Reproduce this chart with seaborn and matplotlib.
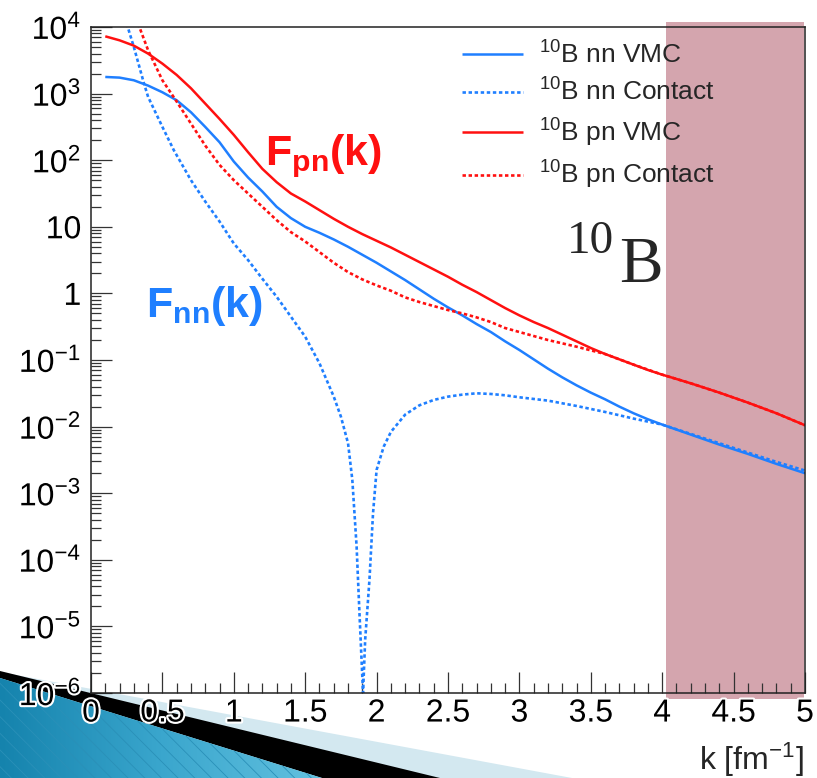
import numpy as np
import pandas as pd
import matplotlib
matplotlib.use("Agg")
import matplotlib.pyplot as plt
import seaborn as sns
from matplotlib.patches import Polygon, Rectangle
from matplotlib import patheffects as pe
from matplotlib.ticker import MultipleLocator, LogLocator, NullFormatter, FixedLocator
from matplotlib.colors import LinearSegmentedColormap
import matplotlib.transforms as mtransforms

# ---------------- data (log10 of F(k)) ----------------
k_vmc = [0.1, 0.2, 0.3, 0.4, 0.5, 0.6, 0.7, 0.8, 0.9, 1.0,
         1.1, 1.2, 1.3, 1.4, 1.5, 1.6, 1.7, 1.8, 1.9, 2.0,
         2.1, 2.2, 2.3, 2.4, 2.5, 2.6, 2.7, 2.8, 2.9, 3.0,
         3.1, 3.2, 3.3, 3.4, 3.5, 3.6, 3.7, 3.8, 3.9, 4.0,
         4.2, 4.4, 4.6, 4.8, 5.0]
log_pn_vmc = [3.86, 3.80, 3.72, 3.60, 3.45, 3.28, 3.08, 2.85, 2.62, 2.38,
              2.12, 1.87, 1.67, 1.50, 1.38, 1.25, 1.12, 1.00, 0.89, 0.79,
              0.69, 0.58, 0.47, 0.36, 0.25, 0.13, 0.02, -0.10, -0.22, -0.33,
              -0.43, -0.52, -0.62, -0.72, -0.82, -0.91, -0.99, -1.07, -1.15, -1.22,
              -1.35, -1.49, -1.64, -1.80, -1.98]
log_nn_vmc = [3.25, 3.24, 3.20, 3.12, 3.02, 2.90, 2.72, 2.50, 2.27, 1.98,
              1.74, 1.53, 1.30, 1.13, 1.00, 0.91, 0.81, 0.70, 0.58, 0.46,
              0.33, 0.20, 0.06, -0.08, -0.21, -0.33, -0.46, -0.58, -0.72, -0.85,
              -0.99, -1.13, -1.26, -1.38, -1.49, -1.59, -1.70, -1.80, -1.89, -1.97,
              -2.12, -2.27, -2.41, -2.56, -2.70]

k_pn_con = [0.33, 0.4, 0.5, 0.6, 0.7, 0.8, 0.9, 1.0, 1.1, 1.2,
            1.3, 1.4, 1.5, 1.6, 1.7, 1.8, 1.9, 2.0, 2.1, 2.2,
            2.3, 2.4, 2.5, 2.6, 2.7, 2.8, 2.9, 3.0, 3.2, 3.4,
            3.6, 3.8, 4.0, 4.2, 4.4, 4.6, 4.8, 5.0]
log_pn_con = [4.05, 3.65, 3.20, 2.88, 2.55, 2.22, 1.93, 1.70, 1.50, 1.30,
              1.10, 0.92, 0.78, 0.62, 0.46, 0.32, 0.21, 0.12, 0.04, -0.06,
              -0.13, -0.19, -0.25, -0.30, -0.36, -0.43, -0.52, -0.58, -0.70, -0.80,
              -0.91, -1.07, -1.22, -1.35, -1.49, -1.64, -1.80, -1.98]

k_nn_con = [0.25, 0.3, 0.37, 0.4, 0.5, 0.58, 0.7, 0.8, 0.9, 1.0,
            1.1, 1.2, 1.3, 1.4, 1.5, 1.6, 1.65, 1.7, 1.75, 1.8,
            1.83, 1.86, 1.88, 1.905, 1.92, 1.95, 1.975, 2.0, 2.05, 2.1,
            2.2, 2.3, 2.4, 2.5, 2.6, 2.7, 2.8, 2.9, 3.0, 3.2,
            3.4, 3.6, 3.8, 4.0, 4.2, 4.4, 4.6, 4.8, 5.0]
log_nn_con = [4.05, 3.70, 3.16, 2.95, 2.50, 2.15, 1.70, 1.38, 1.08, 0.75,
              0.50, 0.22, -0.05, -0.35, -0.65, -1.05, -1.30, -1.55, -1.85, -2.25,
              -2.80, -3.80, -4.80, -6.00, -5.20, -4.30, -3.30, -2.65, -2.30, -2.08,
              -1.82, -1.68, -1.60, -1.55, -1.52, -1.50, -1.51, -1.53, -1.56, -1.61,
              -1.69, -1.78, -1.88, -1.97, -2.11, -2.25, -2.39, -2.53, -2.66]

series_names = [r"$^{\mathregular{10}}$B nn VMC", r"$^{\mathregular{10}}$B nn Contact",
                r"$^{\mathregular{10}}$B pn VMC", r"$^{\mathregular{10}}$B pn Contact"]
y_tick_labels = [r"$\mathregular{10^{-6}}$", r"$\mathregular{10^{-5}}$", r"$\mathregular{10^{-4}}$",
                 r"$\mathregular{10^{-3}}$", r"$\mathregular{10^{-2}}$", r"$\mathregular{10^{-1}}$",
                 "1", "10", r"$\mathregular{10^{2}}$", r"$\mathregular{10^{3}}$", r"$\mathregular{10^{4}}$"]
x_tick_labels = ["0", "0.5", "1", "1.5", "2", "2.5", "3", "3.5", "4", "4.5", "5"]

# ---------------- style ----------------
sns.set_theme(style="ticks")
plt.rcParams['font.family'] = ['Liberation Sans', 'DejaVu Sans']
plt.rcParams['mathtext.fontset'] = 'custom'
plt.rcParams['mathtext.rm'] = 'Liberation Sans'
plt.rcParams['mathtext.it'] = 'Liberation Sans:italic'
plt.rcParams['mathtext.bf'] = 'Liberation Sans:bold'
plt.rcParams['hatch.linewidth'] = 0.6
plt.rcParams['lines.solid_capstyle'] = 'butt'
plt.rcParams['axes.axisbelow'] = False

BLUE = '#1f7fff'
RED = '#ff1010'
PINK = '#d4a5ae'

W, H = 817, 778
fig = plt.figure(figsize=(W / 100, H / 100), dpi=100, facecolor='white')

# ---------------- slide decoration (bottom-left corner) ----------------
deco = fig.add_axes([0, 0, 1, 1], zorder=-1)
deco.set_axis_off()
deco.patch.set_alpha(0)
light = Polygon([(0, 672), (572, 778), (0, 778)], closed=True, facecolor='#d3e8f0', edgecolor='none')
deco.add_patch(light)
black = Polygon([(0, 671), (440, 778), (322, 778), (0, 678)], closed=True, facecolor='black', edgecolor='none')
deco.add_patch(black)
tri = Polygon([(0, 678), (322, 778), (0, 778)], closed=True, facecolor='none', edgecolor='none')
deco.add_patch(tri)
grad = np.linspace(0, 1, 256).reshape(1, -1)
cmap = LinearSegmentedColormap.from_list('deco', ['#1583ad', '#3aa6cd', '#62c1df'])
im = deco.imshow(grad, extent=[0, 322, 778, 678], cmap=cmap, aspect='auto', zorder=1)
im.set_clip_path(tri)
hatch = Polygon([(0, 678), (322, 778), (0, 778)], closed=True, facecolor='none',
                edgecolor='#2a90b8', hatch='\\\\', linewidth=0, zorder=2)
deco.add_patch(hatch)
deco.set_xlim(0, W)
deco.set_ylim(H, 0)

# ---------------- main axes ----------------
ax = fig.add_axes([91 / W, 1 - 693 / H, (805 - 91) / W, (693 - 27) / H], zorder=0)
ax.set_facecolor('white')
ax.set_axisbelow(False)

# shaded k > 4 region
trans = mtransforms.blended_transform_factory(ax.transData, ax.transAxes)
ax.add_patch(Rectangle((4.03, -0.009), 0.965, 1.017, transform=trans, facecolor=PINK,
                       edgecolor='none', clip_on=False, zorder=1))

dotted = (0, (1.3, 1.0))
specs = [
    (k_vmc, log_nn_vmc, series_names[0], BLUE, '-', 1.8),
    (k_nn_con, log_nn_con, series_names[1], BLUE, dotted, 1.9),
    (k_vmc, log_pn_vmc, series_names[2], RED, '-', 1.8),
    (k_pn_con, log_pn_con, series_names[3], RED, dotted, 1.9),
]
for kk, ll, name, col, ls, lw in specs:
    df = pd.DataFrame({'k': kk, 'F': np.power(10.0, np.array(ll))})
    sns.lineplot(data=df, x='k', y='F', ax=ax, color=col, linestyle=ls, linewidth=lw,
                 label=name, sort=False, zorder=3)

ax.set_yscale('log')
ax.set_xlim(0, 5)
ax.set_ylim(1e-6, 1e4)
ax.set_xlabel('')
ax.set_ylabel('')

ax.yaxis.set_major_locator(FixedLocator([10.0 ** e for e in range(-6, 5)]))
ax.set_yticklabels(y_tick_labels)
ax.yaxis.set_minor_locator(LogLocator(base=10, subs=np.arange(2, 10), numticks=30))
ax.yaxis.set_minor_formatter(NullFormatter())
ax.xaxis.set_major_locator(FixedLocator(np.arange(0, 5.01, 0.5)))
ax.set_xticklabels(x_tick_labels)
ax.xaxis.set_minor_locator(MultipleLocator(0.1))

ax.tick_params(axis='both', which='major', direction='in', length=15, width=0.9,
               color='#333333', labelsize=23, labelcolor='black')
ax.tick_params(axis='both', which='minor', direction='in', length=7.5, width=0.9, color='#333333')
ax.tick_params(axis='y', which='major', pad=7)
ax.tick_params(axis='x', which='major', pad=4)
ax.tick_params(top=False, right=False, which='both')
for sp in ax.spines.values():
    sp.set_linewidth(1.1)
    sp.set_color('#222222')
    sp.set_zorder(4)
halo = [pe.withStroke(linewidth=3, foreground='white')]
for lab in ax.get_xticklabels() + ax.get_yticklabels():
    lab.set_path_effects(halo)

leg = ax.legend(loc='upper left', bbox_to_anchor=((462 - 91) / 714, (693 - 41) / 666),
                frameon=False, fontsize=19, handlelength=2.3, handletextpad=0.6,
                labelspacing=0.4, borderpad=0, borderaxespad=0)
leg.set_zorder(5)


def px(x, y):
    return x / W, 1 - y / H


fig.text(*px(265, 165), r'$\mathbf{F_{pn}(k)}$', color=RED, fontsize=31, ha='left', va='baseline')
fig.text(*px(146, 317), r'$\mathbf{F_{nn}(k)}$', color=BLUE, fontsize=31, ha='left', va='baseline')
fig.text(*px(567, 253), '10', family='Liberation Serif', fontsize=34, ha='left', va='baseline')
fig.text(*px(619, 282), 'B', family='Liberation Serif', fontsize=47, ha='left', va='baseline')
fig.text(*px(804, 770), r'k [fm$^{\mathregular{-1}}$]', fontsize=23, ha='right', va='baseline')

fig.savefig('out.png', dpi=100, facecolor='white')
